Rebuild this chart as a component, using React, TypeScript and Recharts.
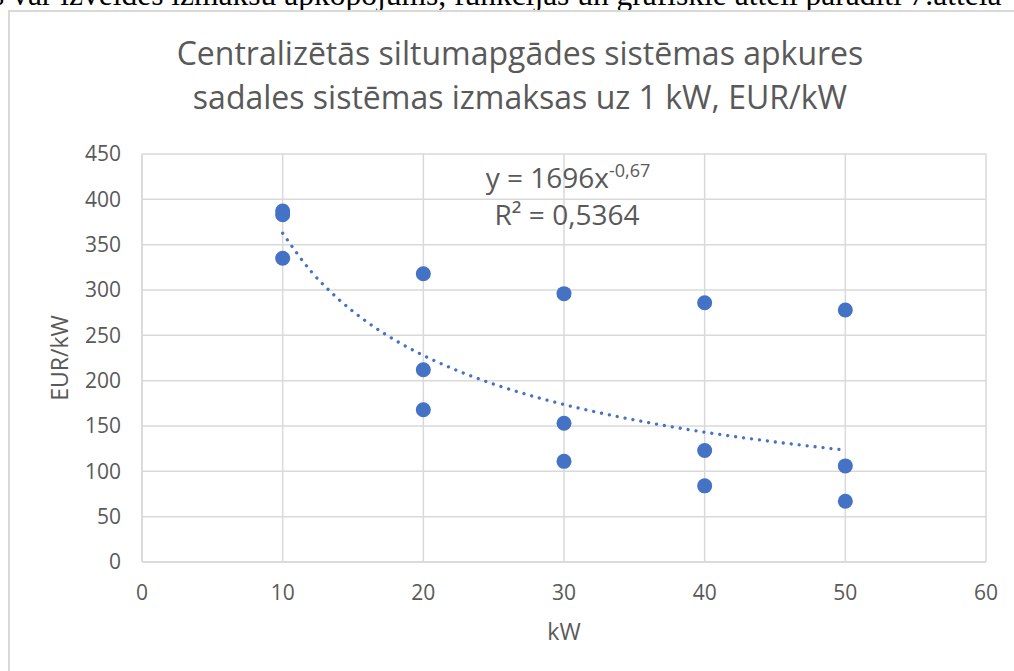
import React from "react";
import { ComposedChart, Scatter, Line, XAxis, YAxis, CartesianGrid } from "recharts";

const KW = [10, 10, 10, 20, 20, 20, 30, 30, 30, 40, 40, 40, 50, 50, 50];
const COST = [387, 383, 335, 318, 212, 168, 296, 153, 111, 286, 123, 84, 278, 106, 67];

// power trend line y = 1696x^-0,67
const TREND_KW = [10, 12, 14, 16, 18, 20, 22, 25, 28, 30, 35, 40, 45, 50];
const TREND_COST = [362.6, 320.9, 289.5, 264.7, 244.6, 227.9, 213.8, 196.2, 181.9, 173.7, 156.7, 143.2, 132.4, 123.4];

const X_TICKS = [0, 10, 20, 30, 40, 50, 60];
const Y_TICKS = [0, 50, 100, 150, 200, 250, 300, 350, 400, 450];

const TITLE = ["Centralizētās siltumapgādes sistēmas apkures", "sadales sistēmas izmaksas uz 1 kW, EUR/kW"];

const points = KW.map((x, i) => ({ x, y: COST[i] }));
const trend = TREND_KW.map((x, i) => ({ x, y: TREND_COST[i] }));

const BLUE = "#4472C4";
const GRID = "#d9d9d9";
const TEXT = "#595959";
const FONT = "'Open Sans', sans-serif";

const Dot = (props: any) => <circle cx={props.cx} cy={props.cy} r={7.5} fill={BLUE} />;

export default function App() {
  return (
    <div style={{ position: "absolute", left: 0, top: 0, width: 1014, height: 671, overflow: "hidden", background: "#fff" }}>
      <svg width={1014} height={20} style={{ position: "absolute", left: 0, top: 0 }}>
        <text x={-8} y={5} fontFamily="'Liberation Serif', serif" fontSize={31.5} fill="#000">
          s var izveides izmaksu apkopojums, funkcijas un grafiskie attēli parādīti 7.attēlā
        </text>
      </svg>
      <div
        style={{
          position: "absolute",
          left: 8,
          top: 10,
          width: 1100,
          height: 800,
          borderLeft: `2px solid ${GRID}`,
          borderTop: `2px solid ${GRID}`,
        }}
      />
      <div style={{ position: "absolute", left: 0, top: 0 }}>
        <ComposedChart width={1014} height={671} margin={{ top: 154, right: 28, bottom: 49, left: 0 }}>
          <CartesianGrid stroke={GRID} strokeWidth={1.5} />
          <XAxis
            type="number"
            dataKey="x"
            domain={[0, 60]}
            ticks={X_TICKS}
            height={60}
            stroke={GRID}
            strokeWidth={1.5}
            tickLine={false}
            tickSize={0}
            tickMargin={23}
            tick={{ fill: TEXT, fontSize: 21, fontFamily: FONT }}
          />
          <YAxis
            type="number"
            domain={[0, 450]}
            ticks={Y_TICKS}
            width={142}
            stroke={GRID}
            strokeWidth={1.5}
            tickLine={false}
            tickSize={0}
            tickMargin={21}
            tick={{ fill: TEXT, fontSize: 21, fontFamily: FONT }}
          />
          <Line
            data={trend}
            dataKey="y"
            type="monotone"
            dot={false}
            activeDot={false}
            stroke={BLUE}
            strokeWidth={3.3}
            strokeDasharray="0.01 8"
            strokeLinecap="round"
            isAnimationActive={false}
          />
          <Scatter data={points} dataKey="y" fill={BLUE} shape={Dot} isAnimationActive={false} />
        </ComposedChart>
      </div>
      <svg width={1014} height={671} style={{ position: "absolute", left: 0, top: 0, pointerEvents: "none" }} fontFamily={FONT}>
        <text x={520} y={65} textAnchor="middle" fontSize={32} fill={TEXT}>{TITLE[0]}</text>
        <text x={520} y={109} textAnchor="middle" fontSize={32} fill={TEXT}>{TITLE[1]}</text>
        <text x={568} y={188} textAnchor="middle" fontSize={28} fill={TEXT}>
          y = 1696x<tspan fontSize={18} dy={-11}>-0,67</tspan>
        </text>
        <text x={567} y={225} textAnchor="middle" fontSize={28} fill={TEXT}>R² = 0,5364</text>
        <text x={564} y={640} textAnchor="middle" fontSize={23} fill={TEXT}>kW</text>
        <text x={68} y={358} textAnchor="middle" fontSize={23} fill={TEXT} transform="rotate(-90 68 358)">EUR/kW</text>
      </svg>
    </div>
  );
}
